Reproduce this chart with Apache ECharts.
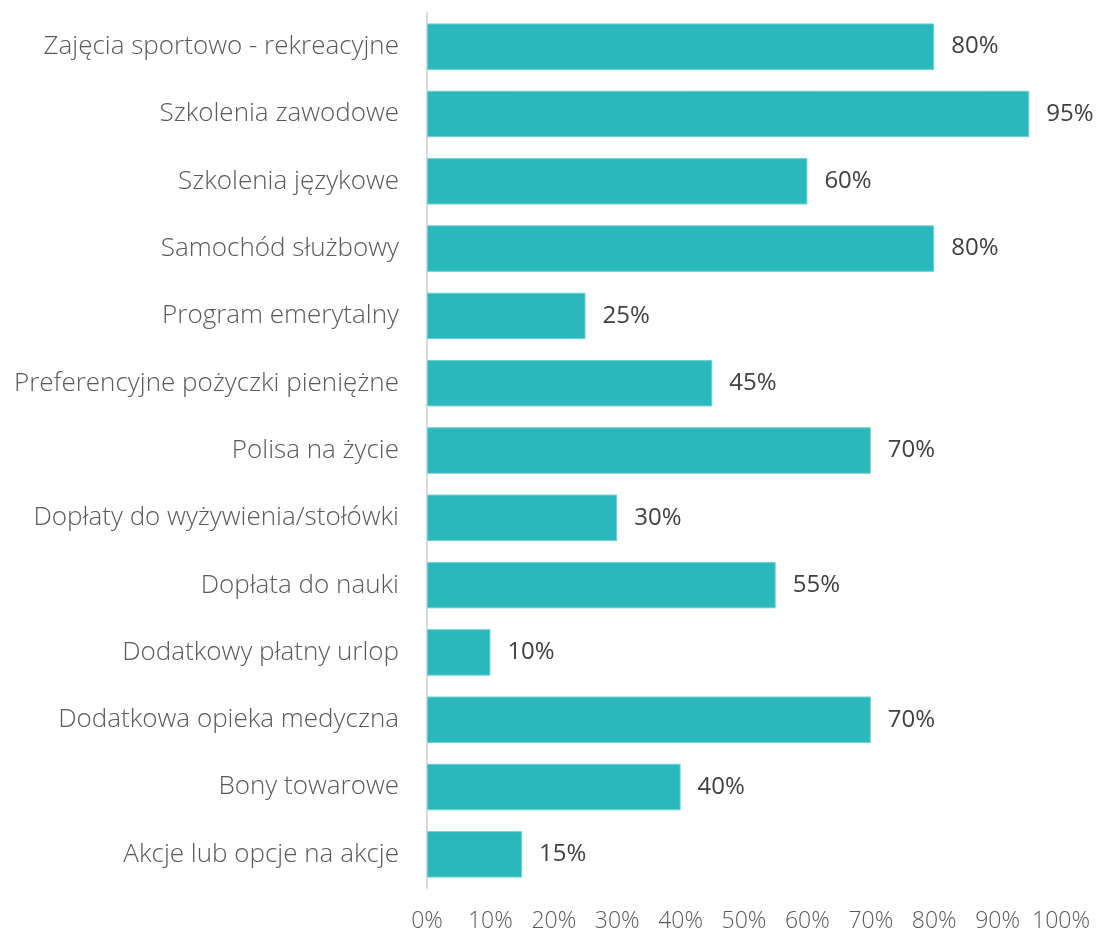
<!DOCTYPE html>
<html>
<head>
<meta charset="utf-8">
<script src="https://cdn.jsdelivr.net/npm/echarts@6/dist/echarts.min.js"></script>
<style>
  html, body { margin: 0; padding: 0; background: #fff; }
  #chart { width: 1099px; height: 934px; }
</style>
</head>
<body>
<div id="chart"></div>
<script>
// categories top to bottom
const categories = [
  'Zajęcia sportowo - rekreacyjne',
  'Szkolenia zawodowe',
  'Szkolenia językowe',
  'Samochód służbowy',
  'Program emerytalny',
  'Preferencyjne pożyczki pieniężne',
  'Polisa na życie',
  'Dopłaty do wyżywienia/stołówki',
  'Dopłata do nauki',
  'Dodatkowy płatny urlop',
  'Dodatkowa opieka medyczna',
  'Bony towarowe',
  'Akcje lub opcje na akcje'
]
const values = [80, 95, 60, 80, 25, 45, 70, 30, 55, 10, 70, 40, 15]

const chart = echarts.init(document.getElementById('chart'))

const option = {
  animation: false,
  textStyle: { fontFamily: 'Open Sans' },
  grid: { left: 427, right: 38, top: 13, bottom: 46 },
  xAxis: {
    type: 'value',
    min: 0,
    max: 100,
    interval: 10,
    axisLine: { show: false },
    axisTick: { show: false },
    splitLine: { show: false },
    axisLabel: {
      formatter: '{value}%',
      color: '#595959',
      fontSize: 23,
      fontWeight: 300,
      margin: 22
    }
  },
  yAxis: {
    type: 'category',
    inverse: true,
    data: categories,
    axisLine: { show: true, lineStyle: { color: '#d9d9d9', width: 2 } },
    axisTick: { show: false },
    axisLabel: { color: '#595959', fontSize: 26, fontWeight: 300, margin: 28 }
  },
  series: [{
    type: 'bar',
    data: values,
    barCategoryGap: '31%',
    itemStyle: { color: '#2ab8bc', borderColor: '#6fd0d3', borderWidth: 1 },
    label: {
      show: true,
      position: 'right',
      distance: 17,
      formatter: '{c}%',
      color: '#404040',
      fontSize: 24
    }
  }]
}

chart.setOption(option)
window.addEventListener('resize', () => chart.resize())
</script>
</body>
</html>
